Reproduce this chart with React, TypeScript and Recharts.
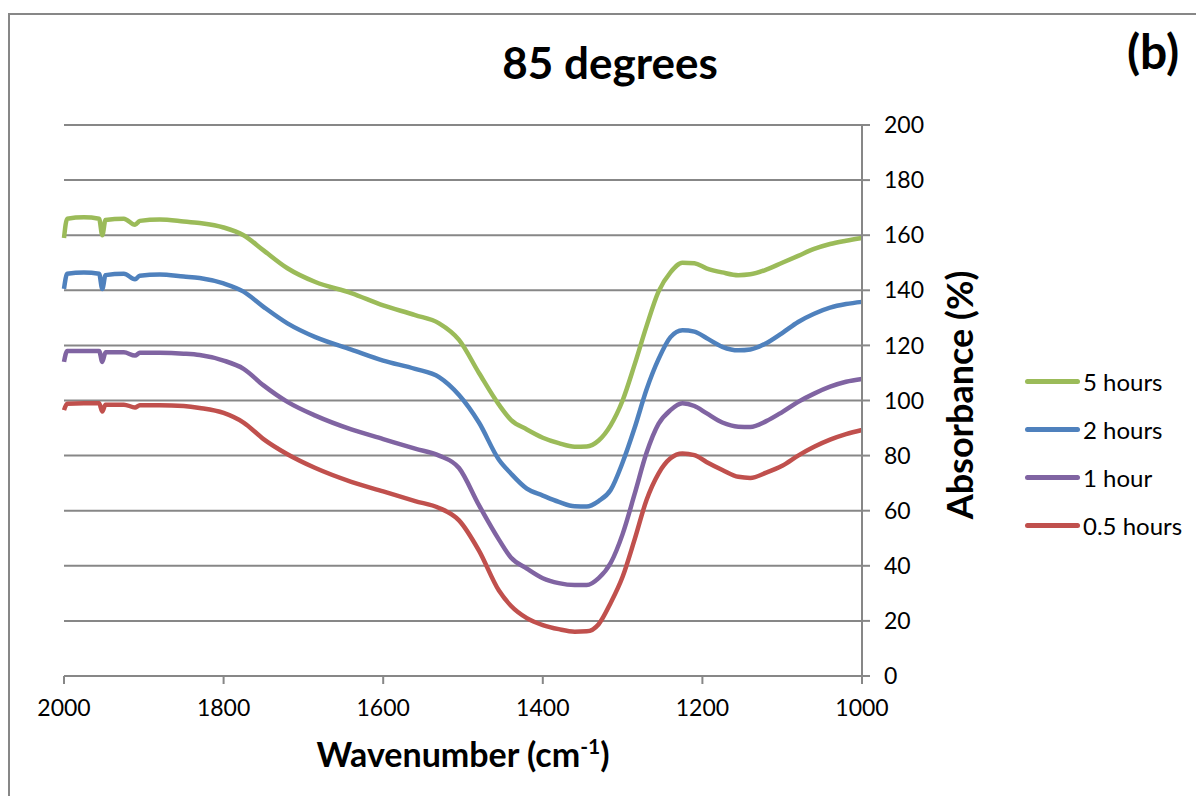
import React from 'react';
import { LineChart, Line, XAxis, YAxis, CartesianGrid, Legend, Label } from 'recharts';

const wavenumbers = [2000, 1996, 1975, 1956, 1952, 1948, 1925, 1911, 1905, 1880, 1850, 1830, 1800, 1775, 1750, 1720, 1685, 1640, 1600, 1560, 1530, 1505, 1480, 1455, 1440, 1420, 1400, 1380, 1360, 1345, 1330, 1315, 1300, 1285, 1270, 1255, 1240, 1225, 1210, 1195, 1175, 1155, 1140, 1120, 1100, 1080, 1060, 1040, 1020, 1000];

const hours5 = [159, 166, 166.5, 166, 160, 165.5, 166, 163.8, 165.2, 165.7, 165, 164.4, 162.8, 160, 154.5, 148, 143, 139, 134.5, 131, 128, 122, 110, 98.5, 93, 89.5, 86.5, 84.5, 83.2, 83.3, 85.5, 91, 100, 113, 127, 139.5, 146.5, 150, 149.8, 148, 146.5, 145.5, 145.8, 147.5, 150, 152.5, 155, 156.8, 158, 159];

const hours2 = [140.5, 146, 146.5, 146, 140.5, 145.5, 146, 144, 145.3, 145.7, 145, 144.5, 142.5, 139.5, 134, 128, 123, 118.5, 114.5, 111.5, 108.5, 102, 92, 78.5, 73.5, 68, 65.5, 63.2, 61.6, 61.5, 63.5, 67.5, 77.5, 90, 104, 115, 123, 125.5, 125, 122.7, 119.5, 118.2, 118.5, 120.8, 124.5, 128.5, 131.5, 133.7, 135, 135.8];

const hour1 = [114, 118, 118, 118, 114, 117.5, 117.5, 116.3, 117.3, 117.3, 117, 116.5, 114.5, 111.5, 105.5, 99.5, 94.5, 89.5, 86, 82.5, 80, 75.5, 62, 49.5, 43, 39, 35.5, 33.7, 33, 33, 35.5, 41, 51.5, 66, 81, 91.5, 96.5, 99, 98, 95.4, 92, 90.5, 90.4, 92.5, 95.8, 99.5, 102.5, 105, 106.8, 107.8];

const hours05 = [96.5, 98.8, 99, 99, 96, 98.5, 98.5, 97.5, 98.3, 98.3, 98, 97.3, 95.5, 92, 86, 80.5, 75.5, 70.5, 67, 63.5, 61, 56.5, 45.5, 31, 25.5, 21, 18.5, 17, 16.1, 16.2, 18.8, 26.5, 36, 49.5, 63.9, 73.5, 79, 80.8, 80.2, 77.7, 74.8, 72.3, 71.9, 73.8, 76.3, 80, 83.2, 85.8, 87.8, 89.3];

const seriesNames = ['5 hours', '2 hours', '1 hour', '0.5 hours'];
const seriesValues = [hours5, hours2, hour1, hours05];
const seriesColors = ['#9BBB59', '#4F81BD', '#8064A2', '#C0504D'];

const xTicks = [2000, 1800, 1600, 1400, 1200, 1000];
const yTicks = [0, 20, 40, 60, 80, 100, 120, 140, 160, 180, 200];

const FONT = "Lato, 'Open Sans', sans-serif";
const GRAY = '#878787';

const toData = (vals: number[]) => wavenumbers.map((w, i) => ({ w, v: vals[i] }));

const LegendContent = () => (
  <div style={{ fontFamily: FONT, fontSize: 24, color: '#000' }}>
    {seriesNames.map((n, i) => (
      <div key={n} style={{ display: 'flex', alignItems: 'center', height: 48 }}>
        <div style={{ width: 55, height: 5, borderRadius: 3, background: seriesColors[i], marginRight: 3 }} />
        <span>{n}</span>
      </div>
    ))}
  </div>
);

const XTitle = () => (
  <text x={455} y={754} textAnchor="middle" fontFamily={FONT} fontWeight="bold" fontSize={34} fill="#000">
    Wavenumber (cm<tspan dy={-13} fontSize={21}>-1</tspan><tspan dy={13}>)</tspan>
  </text>
);

const YTitle = () => (
  <text x={965} y={382} textAnchor="middle" transform="rotate(-90, 965, 382)" fontFamily={FONT} fontWeight="bold" fontSize={36} fill="#000">
    Absorbance (%)
  </text>
);

export default function App() {
  return (
    <div style={{ position: 'relative', width: 1188, height: 788 }}>
      <div style={{ position: 'absolute', left: 0, top: 5, width: 1196, height: 791, boxSizing: 'border-box', borderTop: `2px solid ${GRAY}`, borderLeft: `2px solid ${GRAY}` }} />
      <div style={{ position: 'absolute', left: 0, top: 5 }}>
        <LineChart width={1190} height={785} margin={{ top: 112, left: 56, right: 276, bottom: 82 }}>
          <CartesianGrid vertical={false} stroke={GRAY} strokeWidth={2} />
          <XAxis
            type="number"
            dataKey="w"
            domain={[1000, 2000]}
            reversed
            ticks={xTicks}
            interval={0}
            height={40}
            tickSize={8}
            tickMargin={16}
            axisLine={{ stroke: GRAY, strokeWidth: 2 }}
            tickLine={{ stroke: GRAY, strokeWidth: 2 }}
            tick={{ fill: '#000', fontSize: 23, fontFamily: FONT }}
          >
            <Label content={XTitle} />
          </XAxis>
          <YAxis
            orientation="right"
            type="number"
            domain={[0, 200]}
            ticks={yTicks}
            interval={0}
            width={60}
            tickSize={8}
            tickMargin={14}
            axisLine={{ stroke: GRAY, strokeWidth: 2 }}
            tickLine={{ stroke: GRAY, strokeWidth: 2 }}
            tick={{ fill: '#000', fontSize: 23, fontFamily: FONT }}
          >
            <Label content={YTitle} />
          </YAxis>
          <Legend
            layout="vertical"
            align="center"
            verticalAlign="middle"
            content={LegendContent}
            wrapperStyle={{ left: 1017, top: 344, width: 185 }}
          />
          {seriesValues.map((vals, i) => (
            <Line
              key={seriesNames[i]}
              data={toData(vals)}
              dataKey="v"
              name={seriesNames[i]}
              type="monotone"
              stroke={seriesColors[i]}
              strokeWidth={4.5}
              dot={false}
              activeDot={false}
              isAnimationActive={false}
            />
          ))}
        </LineChart>
      </div>
      <svg style={{ position: 'absolute', left: -8, top: -8, pointerEvents: 'none' }} width={1204} height={804}>
        <text x={610} y={79} textAnchor="middle" fontFamily={FONT} fontWeight="bold" fontSize={44} fill="#000">85 degrees</text>
        <text x={1153} y={69} textAnchor="middle" fontFamily={FONT} fontWeight="bold" fontSize={48} fill="#000">(b)</text>
      </svg>
    </div>
  );
}
